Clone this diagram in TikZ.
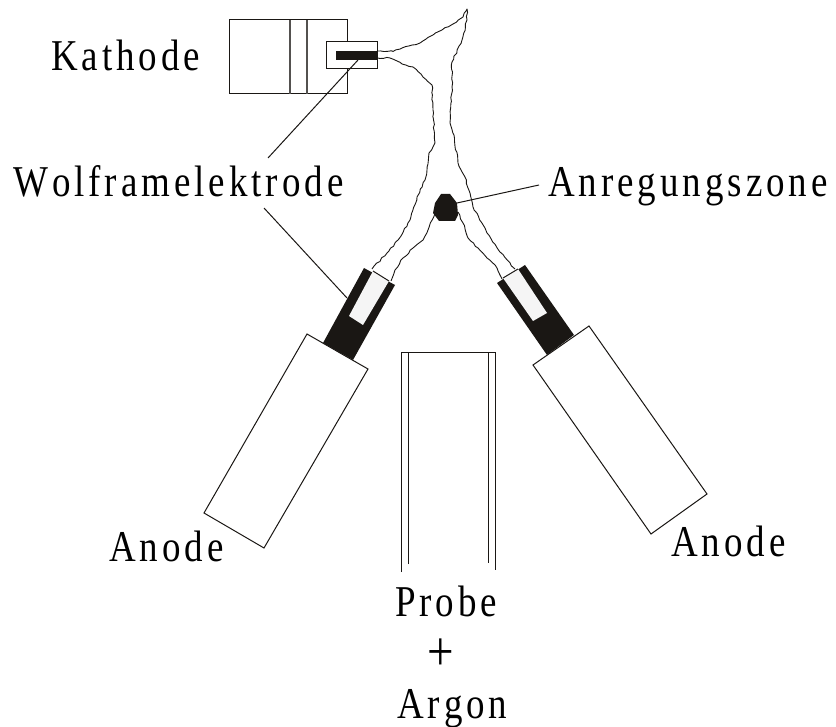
\documentclass[tikz,border=0pt]{standalone}
\usepackage{fontspec}
\usetikzlibrary{decorations.pathmorphing}
\setmainfont[LetterSpace=9,Kerning=Off,FakeStretch=0.84]{Liberation Serif}
\definecolor{ink}{HTML}{1A1714}
\pgfmathsetseed{7}
\tikzset{
  lbl/.style={anchor=base west,inner sep=0pt,font=\fontsize{44}{44}\selectfont,text=black},
  thin line/.style={draw=ink,line width=1pt,line join=miter},
  gray line/.style={draw=ink!75,line width=1.2pt},
  wig/.style={draw=ink,line width=0.9pt,line join=round,decorate,decoration={random steps,segment length=3.5pt,amplitude=0.7pt}}
}
\begin{document}
\begin{tikzpicture}[x=1pt,y=-1pt]
\useasboundingbox (0,0) rectangle (836,727);
% Kathode
\draw[thin line] (229,20) rectangle (347,94);
\draw[gray line] (290,20) -- (290,94) (307,20) -- (307,94);
\draw[thin line,fill=white] (326,42) rectangle (377,69);
\fill[ink] (336,51) rectangle (377,60);
% Arc lines
\draw[wig] (377,51) -- (393,51.5) -- (402,48) -- (420,43) -- (433,35) -- (442,30) -- (453,24) -- (463,17) -- (467,9) -- (467,20) -- (462,40) -- (452,62) -- (452,87) -- (450,123) -- (454,135) -- (458,163) -- (465,177) -- (470,193) -- (473,207) -- (487,233) -- (500,252) -- (515,269);
\draw[wig] (377,58) -- (390,58) -- (402,64) -- (413,67) -- (423,77) -- (432,85) -- (433,110) -- (435,143) -- (429,153) -- (427,170) -- (425,180) -- (417,197) -- (410,220) -- (398,240) -- (387,253) -- (372,269);
\draw[wig] (435,213) -- (428,230) -- (423,240) -- (413,248) -- (403,258) -- (395,270) -- (391,281);
\draw[wig] (458,212) -- (463,223) -- (468,238) -- (478,248) -- (487,258) -- (497,268) -- (502,279);
% Excitation zone
\fill[ink] (441,194) -- (450,194) -- (457,203) -- (458,215) -- (455,221) -- (439,221) -- (433,213) -- (435,203) -- cycle;
\coordinate (zone) at (457,203);
\coordinate (zoneend) at (539,185);
\draw[thin line] (zone) -- (zoneend);
% Left electrode
\fill[ink] (364,268) -- (395,285) -- (353,360) -- (323,343) -- cycle;
\fill[white!96!black] (373,271) -- (389,281) -- (363,325) -- (349,316) -- cycle;
\draw[thin line] (373,271) -- (389,281);
% Right electrode
\fill[ink] (497,283) -- (525,265) -- (574,335) -- (547,355) -- cycle;
\fill[white!96!black] (503,278) -- (518,269) -- (547,313) -- (533,321) -- cycle;
\draw[thin line] (503,278) -- (518,269);
% Anodes
\draw[thin line,fill=white] (307,334) -- (368,369) -- (264,548) -- (204,513) -- cycle;
\draw[thin line,fill=white] (533,365) -- (589,326) -- (707,494) -- (651,534) -- cycle;
% Probe
\draw[thin line] (401,572) -- (401,353) -- (495,353) -- (495,570);
\draw[thin line] (408,564) -- (408,353) (488,353) -- (488,563);
% Labels
\node[lbl] (kathode) at (51,71) {Kathode};
\node[lbl] (wolfram) at (13,197) {Wolframelektrode};
\node[lbl] (anregung) at (548,197) {Anregungszone};
\node[lbl] (anodeL) at (109,561) {Anode};
\node[lbl] (anodeR) at (671,556) {Anode};
\node[lbl] (probe) at (395,616) {Probe};
\node[lbl,font=\fontsize{56}{56}\selectfont] (plus) at (427,670) {+};
\node[lbl] (argon) at (397,718) {Argon};
% Leaders
\coordinate (tipA) at (358,60);
\coordinate (tipB) at (268,158);
\coordinate (tipC) at (264,208);
\coordinate (tipD) at (347,298);
\draw[thin line] (tipA) -- (tipB);
\draw[thin line] (tipC) -- (tipD);
\end{tikzpicture}
\end{document}
